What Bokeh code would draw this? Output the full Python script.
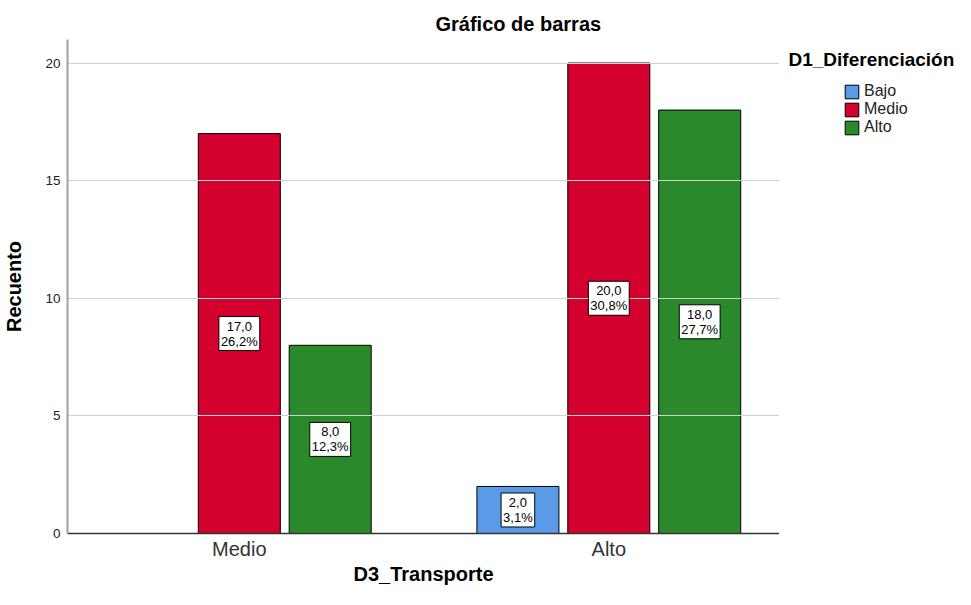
from bokeh.plotting import figure
from bokeh.layouts import row
from bokeh.models import (ColumnDataSource, Label, Legend, LegendItem,
                          FixedTicker, Range1d)
from bokeh.transform import dodge
from bokeh.embed import file_html
from bokeh.resources import INLINE

# ---- data ----
groups = ["Medio", "Alto"]                 # D3_Transporte categories
series = ["Bajo", "Medio", "Alto"]         # D1_Diferenciación
counts = {
    "Bajo":  [0, 2],
    "Medio": [17, 20],
    "Alto":  [8, 18],
}
percents = {
    "Bajo":  ["0,0%", "3,1%"],
    "Medio": ["26,2%", "30,8%"],
    "Alto":  ["12,3%", "27,7%"],
}
y_ticks = [0, 5, 10, 15, 20]
colors = {"Bajo": "#5a9be8", "Medio": "#d4002e", "Alto": "#2a8a2b"}
offsets = {"Bajo": -0.246, "Medio": 0.0, "Alto": 0.246}
bar_w = 0.222

FONT = "Liberation Sans"

# ---- main chart ----
p = figure(width=779, height=589, output_backend="svg", toolbar_location=None,
           x_range=Range1d(-0.465, 1.462), y_range=Range1d(0, 21.0),
           min_border_left=66, min_border_right=0, min_border_top=39,
           min_border_bottom=56)
p.outline_line_color = None
p.background_fill_color = "white"
p.border_fill_color = "white"
p.title.text = "Gráfico de barras"
p.title.align = "left"
p.title.offset = 368
p.title.standoff = 10
p.title.text_font = FONT
p.title.text_font_size = "20px"
p.title.text_font_style = "bold"
p.title.text_color = "black"

sources = {}
for s in series:
    xs, tops = [], []
    for gi, g in enumerate(groups):
        c = counts[s][gi]
        if c <= 0:
            continue
        xs.append(gi)
        tops.append(c)
        txt = f"{c:.1f}".replace(".", ",") + "\n" + percents[s][gi]
        p.add_layout(Label(x=gi + offsets[s], y=c / 2, text=txt,
                           text_align="center", text_baseline="middle",
                           text_font=FONT, text_font_size="13px",
                           text_color="black", text_line_height=1.0,
                           background_fill_color="white",
                           border_line_color="black", border_line_width=1,
                           padding=2))
    sources[s] = dict(x=xs, top=tops)
    p.vbar(x=dodge("x", offsets[s]), top="top", width=bar_w,
           source=ColumnDataSource(sources[s]),
           fill_color=colors[s], line_color="black", line_width=1,
           level="underlay")

# axes
p.xaxis.ticker = FixedTicker(ticks=list(range(len(groups))))
p.xaxis.major_label_overrides = {i: g for i, g in enumerate(groups)}
p.xaxis.axis_label = "D3_Transporte"
p.yaxis.axis_label = "Recuento"
p.yaxis.ticker = FixedTicker(ticks=y_ticks)
for ax in (p.xaxis[0], p.yaxis[0]):
    ax.major_tick_line_color = None
    ax.minor_tick_line_color = None
    ax.major_tick_out = 0
    ax.minor_tick_out = 0
    ax.major_tick_in = 0
    ax.minor_tick_in = 0
    ax.axis_label_text_font = FONT
    ax.axis_label_text_font_style = "bold"
    ax.axis_label_text_font_size = "20px"
    ax.axis_label_text_color = "black"
    ax.major_label_text_font = FONT
p.xaxis.axis_line_color = "#333333"
p.xaxis.axis_line_width = 1.5
p.yaxis.axis_line_color = "#a0a0a0"
p.yaxis.axis_line_width = 2
p.xaxis.major_label_text_font_size = "20px"
p.xaxis.major_label_text_color = "#333333"
p.xaxis.major_label_standoff = 4
p.xaxis.axis_label_standoff = 0
p.yaxis.major_label_text_font_size = "13.5px"
p.yaxis.major_label_text_color = "#222222"
p.yaxis.major_label_standoff = 7
p.yaxis.axis_label_standoff = 17

p.xgrid.grid_line_color = None
p.ygrid.grid_line_color = "#d0d0d0"
p.ygrid.grid_line_width = 1

# ---- legend panel (to the right of the chart; its frame aligns with the chart's) ----
lp = figure(width=176, height=589, output_backend="svg", toolbar_location=None,
            x_range=Range1d(0, 176), y_range=Range1d(0, 494),
            x_axis_location=None, y_axis_location=None, min_border=0)
lp.outline_line_color = None
lp.grid.visible = False
lp.background_fill_color = "white"
lp.border_fill_color = "white"

legend_items = []
for s in series:
    r = lp.vbar(x="x", top="top", width=1, source=ColumnDataSource(sources[s]),
                fill_color=colors[s], line_color="black", line_width=1,
                visible=False)
    legend_items.append(LegendItem(label=s, renderers=[r]))

legend = Legend(items=legend_items, location=(64, 397), orientation="vertical",
                glyph_width=17, glyph_height=17, label_height=18, spacing=0,
                padding=0, margin=0, label_standoff=4,
                label_text_font=FONT, label_text_font_size="16px",
                label_text_color="#222222", border_line_color=None,
                background_fill_alpha=0, inactive_fill_alpha=0)
lp.add_layout(legend)

lp.add_layout(Label(x=9, y=474, text="D1_Diferenciación", text_align="left",
                    text_baseline="middle", text_font=FONT,
                    text_font_size="19px", text_font_style="bold",
                    text_color="black"))

layout = row(p, lp)
open("out.html", "w").write(file_html(layout, INLINE))
